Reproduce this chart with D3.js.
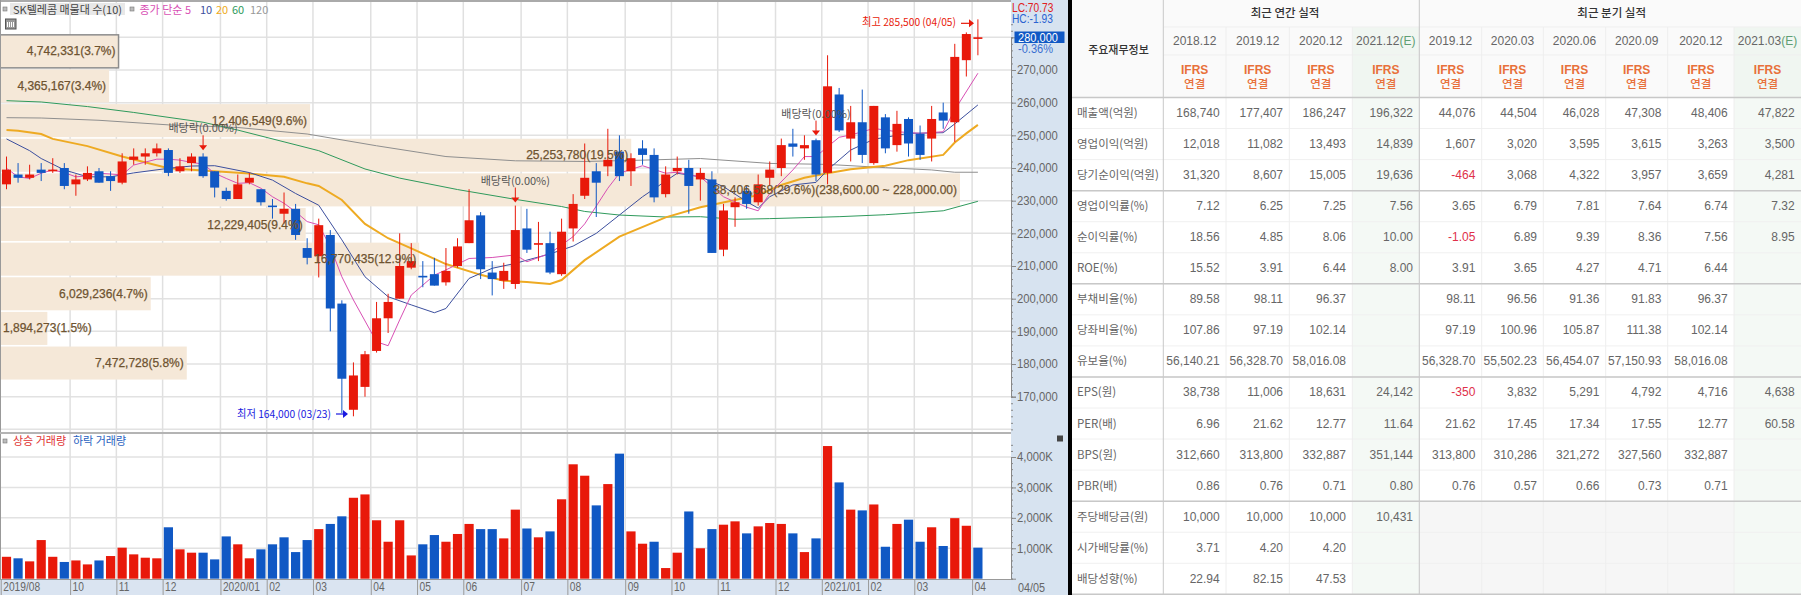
<!DOCTYPE html>
<html>
<head>
<meta charset="utf-8">
<title>SK텔레콤</title>
<script src="https://cdn.jsdelivr.net/npm/d3@7"></script>
<style>
  html, body { margin: 0; padding: 0; background: #fff; overflow: hidden; }
  svg { display: block; }
  text { font-family: "Noto Sans CJK KR", "Liberation Sans", sans-serif; }
  .num { font-family: "Liberation Sans", sans-serif; }
</style>
</head>
<body>
<div id="plot"></div>
<script>
// weekly candles, prices in thousand won
const opens = [235,238,237,239.5,239,240,235,236.5,239,237.5,235.5,242.5,243.5,244.5,245.5,239,241.5,243.5,239,233,230.5,235.5,233.5,228.5,226,227.5,215.5,213,219.5,198.5,166,173,184,194,200,209.5,207,207.5,205,210,217,225.5,208,205.5,204.5,221.5,216.5,217,207.5,221.5,231.5,239,240.5,245,239,246,244,232,239,240,236.5,236.5,215,228,233,229.5,237,240,247.5,246,248.5,238.5,262.5,249,254,241.5,255.5,247,255,250.5,249,257,254,273,279.5];
const closes = [239.5,237,238,238.5,239.5,234.5,236.5,238.5,235.5,236,242,243.5,244.5,246,238.5,240.5,243.5,237.5,234,230.5,235,237,229.5,228,227.5,219.5,212.5,222.5,197,175.5,176.5,183,194,199,210,211.5,206.5,204,208.5,216,224,209,206,208.5,221,215,217,208,220.5,229,237,235.5,242.5,237.5,243,244,231,238,240,234.5,238.5,214,227,229.5,229,235,239.5,247,246.5,247,238,265,251.5,254,244,259,246,253.5,247.5,244,255,254.5,274,281,280];
const highs = [243.5,241.5,241,241.5,243,241.5,238,240.5,240,239,244.5,246,246,247.5,246,243,244.5,244.5,239,234,238,238.5,233.5,230.5,232.5,229,218.5,224.5,221,199.5,180.5,184,199,201.5,220,217,211.5,212.5,215.5,218.5,233.5,226.5,211.5,211,228.5,227.5,223.5,220.5,224.5,232,247.5,241.5,252,250,244.5,248.5,246,240.5,243.5,242.5,240,239,229,231,234.5,238,242,249,252,250,249,274.5,264.5,259,264,259,256.5,257.5,255.5,253,259,260,278,281.5,285.5];
const lows = [233.5,235.5,236.5,236,238.5,233.5,231.5,236,235.5,233,235,241,241,243.5,237.5,238.5,239,237,231,230,230.5,235,228.5,224.5,223,218,210.5,206.5,190,165,164,170,183.5,189.5,200,209,203.5,204,204,209.5,217,206,201,203,203,214,211.5,207.5,207,217.5,230.5,225,237.5,236,234.5,241,229.5,231,238,226,230,214,213,222,227.5,228.5,234.5,237.5,243.5,242.5,236,235,251,242,241.5,241,244.5,245,243.5,242.5,242,252,248,268,274.5];

// weekly volume in K shares, u = up volume, d = down volume
const volumes = [720,670,570,1270,720,550,600,470,600,745,1020,800,690,670,1690,965,855,855,635,1390,1130,670,965,1130,1360,875,1270,1630,1800,2050,2660,2770,1920,1215,1920,765,1130,1435,1215,1470,1800,1630,1630,1325,2270,1650,1360,1555,2610,3760,3385,2410,3110,4110,1555,1150,1215,350,855,2210,1000,1630,1775,1885,1490,1720,1830,1800,1490,875,1325,4360,3165,2270,2245,2440,1050,1800,1940,1215,1690,1075,1990,1740,1020];
const volumeDir = ["u","d","u","u","u","d","u","u","d","u","u","u","u","u","d","u","u","d","d","d","u","u","d","d","d","d","d","u","d","d","u","u","u","u","u","u","d","d","u","u","u","d","d","u","u","d","u","d","u","u","u","d","u","d","u","u","d","u","u","d","u","d","u","u","d","u","u","u","d","u","d","u","d","u","d","u","d","u","d","d","u","d","u","u","d"];

// moving averages as [candle index, price]
const ma5 = [[0,239.9],[1,237.3],[2,236.8],[3,238.4],[4,239.4],[5,238.6],[6,237.3],[7,237.6],[8,238.4],[10,237.9],[11,240.9],[13,242.7],[14,242.7],[15,242.4],[16,241.7],[17,241.2],[18,238.4],[19,236.8],[20,235.3],[21,235.5],[22,233.8],[23,231.2],[24,229.2],[25,226.6],[26,223.6],[27,222.6],[28,215.9],[29,206.7],[30,199.6],[32,186.8],[33,185.6],[34,193.5],[35,201.1],[37,207.2],[38,208.8],[40,212.3],[42,212.6],[44,213.4],[45,211.3],[47,213.9],[49,219],[50,222.9],[52,233.8],[53,238.4],[55,240.7],[57,238.4],[58,238.7],[60,237.3],[62,231.2],[64,228],[65,226.9],[66,232.2],[68,239.4],[69,243.5],[70,243.5],[71,246.5],[72,249.4],[73,250.1],[75,252.1],[77,251.1],[79,250.6],[81,251.1],[82,257.8],[84,269]];
const ma10 = [[0,248.9],[2,245.3],[3,242.9],[5,239.4],[7,237.3],[9,237.3],[11,238.5],[14,239.9],[16,240.6],[18,240.7],[21,238.6],[23,236.3],[25,232.2],[27,228.6],[29,218],[31,206.7],[33,200.6],[35,198.1],[37,195.7],[38,197],[40,206.2],[42,209.3],[44,210.8],[45,211.8],[47,213.7],[49,216.1],[51,220],[53,225.6],[55,231.2],[58,238.4],[60,237.3],[62,234.3],[64,229.7],[65,227.7],[66,231.2],[68,234.8],[70,235.6],[71,239.4],[73,245.5],[75,248.8],[78,250.6],[81,250.8],[82,253.5],[84,259.3]];
const ma20 = [[0,251.6],[1,251.4],[3,250.4],[4,248.9],[7,246.7],[10,243.5],[14,239.9],[17,239.2],[21,238.3],[24,237.3],[26,235.3],[27,234.5],[29,230.2],[31,222.9],[33,218.5],[35,215.4],[38,210.6],[41,207.3],[43,205.5],[45,205.1],[47,204.5],[48,205.7],[50,211.8],[53,219],[57,224.9],[60,228],[63,230.2],[65,231.7],[67,234.8],[69,237],[71,238.4],[73,239.6],[76,240.7],[78,242.4],[81,244],[82,247.8],[83,250.6],[84,253.2]];
const ma60 = [[0,260.6],[3,260.2],[7,258.8],[11,257],[17,254],[20,251.6],[24,248],[27,245.3],[31,239.7],[34,236.9],[39,233.4],[44,230.4],[48,228.2],[50,226.7],[53,225.6],[57,225],[60,225.1],[63,224.3],[66,224.5],[72,225.1],[76,225.7],[79,226.4],[81,226.9],[84,229.8]];
const ma120 = [[0,255.4],[3,255.3],[8,254.6],[14,253.2],[20,252.4],[26,250.4],[32,246.8],[38,243.5],[44,242.2],[50,242],[55,242.4],[60,242.9],[66,241.4],[71,241.1],[76,240.1],[80,239.4],[82,238.7],[84,238.7]];

// volume profile, band edges in thousand won
const profileTop = [281,270.4,259.8,249.2,238.6,228,217.4,206.8,196.2,185.6];
const profileBottom = [270.4,259.8,249.2,238.6,228,217.4,206.8,196.2,185.6,175];
const profileVolume = [4742331,4365167,12406549,25253780,38406568,12229405,16770435,6029236,1894273,7472728];
const profilePct = ["3.7","3.4","9.6","19.5","29.6","9.4","12.9","4.7","1.5","5.8"];

const dividendIdx = [17,44,70];
const priceTicks = [170,180,190,200,210,220,230,240,250,260,270];
const volumeTicks = [1000,2000,3000,4000];
const monthIdx = [0,6,10,14,19,23,27,32,36,40,45,49,54,58,62,67,71,75,79,84];
const monthLabels = ["2019/08","10","11","12","2020/01","02","03","04","05","06","07","08","09","10","11","12","2021/01","02","03","04"];

// financial table
const rowLabels = ["매출액(억원)","영업이익(억원)","당기순이익(억원)","영업이익률(%)","순이익률(%)","ROE(%)","부채비율(%)","당좌비율(%)","유보율(%)","EPS(원)","PER(배)","BPS(원)","PBR(배)","주당배당금(원)","시가배당률(%)","배당성향(%)"];
const yearHeads = ["2018.12","2019.12","2020.12","2021.12"];
const quarterHeads = ["2019.12","2020.03","2020.06","2020.09","2020.12","2021.03"];
const col2018 = ["168,740","12,018","31,320","7.12","18.56","15.52","89.58","107.86","56,140.21","38,738","6.96","312,660","0.86","10,000","3.71","22.94"];
const col2019 = ["177,407","11,082","8,607","6.25","4.85","3.91","98.11","97.19","56,328.70","11,006","21.62","313,800","0.76","10,000","4.20","82.15"];
const col2020 = ["186,247","13,493","15,005","7.25","8.06","6.44","96.37","102.14","58,016.08","18,631","12.77","332,887","0.71","10,000","4.20","47.53"];
const col2021 = ["196,322","14,839","19,636","7.56","10.00","8.00","","","","24,142","11.64","351,144","0.80","10,431","",""];
const colQ1912 = ["44,076","1,607","-464","3.65","-1.05","3.91","98.11","97.19","56,328.70","-350","21.62","313,800","0.76","","",""];
const colQ2003 = ["44,504","3,020","3,068","6.79","6.89","3.65","96.56","100.96","55,502.23","3,832","17.45","310,286","0.57","","",""];
const colQ2006 = ["46,028","3,595","4,322","7.81","9.39","4.27","91.36","105.87","56,454.07","5,291","17.34","321,272","0.66","","",""];
const colQ2009 = ["47,308","3,615","3,957","7.64","8.36","4.71","91.83","111.38","57,150.93","4,792","17.55","327,560","0.73","","",""];
const colQ2012 = ["48,406","3,263","3,659","6.74","7.56","6.44","96.37","102.14","58,016.08","4,716","12.77","332,887","0.71","","",""];
const colQ2103 = ["47,822","3,500","4,281","7.32","8.95","","","","","4,638","60.58","","","","",""];

const RED = "#e8190a", BLUE = "#1058c4", GRID = "#e2e2e2", AXIS = "#666";

const svgWidth = 1801, svgHeight = 595;
const svg = d3.select("#plot").append("svg")
  .attr("width", svgWidth)
  .attr("height", svgHeight);

const chartRight = 1011;
const x = d3.scaleLinear().domain([0, 84]).range([6.5, 977.9]);
const y = d3.scaleLinear().domain([170, 280]).range([396.7, 37.3]);
const yVol = d3.scaleLinear().domain([0, 4000]).range([578.7, 457]);
const profileWidth = d3.scaleLinear().domain([0, 38406568]).range([0, 960]);

// squeeze a text horizontally, the chart font is narrower than ours
function squeeze(sel, factor) {
  sel.each(function() {
    this.setAttribute("textLength", this.getComputedTextLength() * factor);
    this.setAttribute("lengthAdjust", "spacingAndGlyphs");
  });
}

// side and bottom strips
svg.append("rect").attr("x", chartRight).attr("y", 0).attr("width", 57).attr("height", svgHeight).attr("fill", "#d7e3f0");
svg.append("rect").attr("x", 0).attr("y", 580).attr("width", chartRight).attr("height", 15).attr("fill", "#dae4f1");
svg.append("rect").attr("x", 1068).attr("y", 0).attr("width", 4).attr("height", svgHeight).attr("fill", "#000");

// grid
const hGrid = d3.range(160, 281, 10);
svg.append("g").selectAll("line").data(hGrid).enter().append("line")
  .attr("x1", 0).attr("x2", chartRight)
  .attr("y1", d => y(d)).attr("y2", d => y(d))
  .attr("stroke", GRID).attr("stroke-width", 1.5);
svg.append("g").selectAll("line").data(volumeTicks).enter().append("line")
  .attr("x1", 0).attr("x2", chartRight)
  .attr("y1", d => yVol(d)).attr("y2", d => yVol(d))
  .attr("stroke", GRID).attr("stroke-width", 1.5);
svg.append("g").selectAll("line").data(monthIdx.slice(1)).enter().append("line")
  .attr("x1", d => x(d - 0.5)).attr("x2", d => x(d - 0.5))
  .attr("y1", 2).attr("y2", 580)
  .attr("stroke", "#e0e0e0").attr("stroke-width", 1.5);

// volume profile bars
svg.append("g").selectAll("rect").data(profileVolume).enter().append("rect")
  .attr("x", 0)
  .attr("y", (d, i) => y(profileTop[i]) + 0.8)
  .attr("width", d => profileWidth(d))
  .attr("height", (d, i) => y(profileBottom[i]) - y(profileTop[i]) - 1.6)
  .attr("fill", "#f5e8d8")
  .attr("stroke", (d, i) => i == 0 ? "#8c8c8c" : "none")
  .attr("stroke-width", 1.5);

// moving averages
const maLine = d3.line().x(d => x(d[0])).y(d => y(d[1]));
[[ma120, "#8f8f8f", 1], [ma60, "#2f9a5c", 1], [ma20, "#eeaa22", 2], [ma10, "#3c4f9e", 1], [ma5, "#d84fb4", 1]].forEach(s => {
  svg.append("path").attr("d", maLine(s[0]))
    .attr("fill", "none").attr("stroke", s[1]).attr("stroke-width", s[2]);
});

// candles
const candles = svg.append("g").selectAll("g").data(d3.range(opens.length)).enter().append("g")
  .attr("fill", i => closes[i] >= opens[i] ? RED : BLUE)
  .attr("stroke", i => closes[i] >= opens[i] ? RED : BLUE);
candles.append("line")
  .attr("x1", i => x(i)).attr("x2", i => x(i))
  .attr("y1", i => y(highs[i])).attr("y2", i => y(lows[i]));
candles.append("rect")
  .attr("stroke", "none")
  .attr("x", i => x(i) - 4.5).attr("width", 9)
  .attr("y", i => y(Math.max(opens[i], closes[i])))
  .attr("height", i => Math.max(1.5, Math.abs(y(opens[i]) - y(closes[i]))));

// volume bars
svg.append("g").selectAll("rect").data(volumes).enter().append("rect")
  .attr("x", (d, i) => x(i) - 4.6).attr("width", 9.2)
  .attr("y", d => yVol(d))
  .attr("height", d => yVol(0) - yVol(d))
  .attr("fill", (d, i) => volumeDir[i] == "u" ? RED : BLUE);

// profile labels, right aligned in the bar unless the bar is too short
svg.append("g").selectAll("text").data(profileVolume).enter().append("text")
  .attr("class", "num")
  .attr("y", (d, i) => (y(profileTop[i]) + y(profileBottom[i])) / 2 + 4)
  .attr("fill", "#6e5330")
  .attr("stroke", "#6e5330")
  .attr("stroke-width", 0.25)
  .attr("font-size", "12px")
  .text((d, i) => d3.format(",")(d) + "(" + profilePct[i] + "%)" + (i == 4 ? "(238,600.00 ~ 228,000.00)" : ""))
  .each(function(d) {
    this.setAttribute("x", Math.max(3, profileWidth(d) - 3 - this.getComputedTextLength()));
  });

// dividend markers
dividendIdx.forEach(i => {
  const tip = y(highs[i]) - 3;
  svg.append("line").attr("x1", x(i)).attr("x2", x(i)).attr("y1", tip - 15).attr("y2", tip - 4)
    .attr("stroke", RED);
  svg.append("path").attr("d", d3.line()([[x(i) - 4, tip - 5], [x(i) + 4, tip - 5], [x(i), tip]])).attr("fill", RED);
  svg.append("text").attr("x", x(i)).attr("y", tip - 18).attr("text-anchor", "middle")
    .attr("fill", "#555").attr("font-size", "11px").text("배당락(0.00%)");
});

// high / low notes
svg.append("text").attr("x", 956).attr("y", 26).attr("text-anchor", "end").attr("fill", RED)
  .attr("font-size", "11px").text("최고 285,500 (04/05)").call(squeeze, 0.93);
svg.append("path").attr("d", d3.line()([[961, y(285.5) + 4], [973, y(285.5) + 4]])).attr("stroke", RED).attr("stroke-width", 1.2);
svg.append("path").attr("d", d3.line()([[969, y(285.5)], [974, y(285.5) + 4], [969, y(285.5) + 8]])).attr("fill", RED);
svg.append("text").attr("x", 331).attr("y", 418).attr("text-anchor", "end").attr("fill", "#1a1ae0")
  .attr("font-size", "11px").text("최저 164,000 (03/23)").call(squeeze, 0.93);
svg.append("path").attr("d", d3.line()([[336, 414], [347, 414]])).attr("stroke", "#1a1ae0").attr("stroke-width", 1.2);
svg.append("path").attr("d", d3.line()([[343, 410], [348, 414], [343, 418]])).attr("fill", "#1a1ae0");

// panel frame
svg.append("line").attr("x1", 0).attr("x2", chartRight).attr("y1", 1).attr("y2", 1).attr("stroke", "#aaa").attr("stroke-width", 2);
svg.append("line").attr("x1", 0.5).attr("x2", 0.5).attr("y1", 0).attr("y2", 580).attr("stroke", "#999");
svg.append("line").attr("x1", 0).attr("x2", chartRight).attr("y1", 433).attr("y2", 433).attr("stroke", "#b4b4b4").attr("stroke-width", 2);
svg.append("line").attr("x1", 0).attr("x2", chartRight).attr("y1", 579.5).attr("y2", 579.5).attr("stroke", "#999");

// axes
function styleAxis(g) {
  g.select(".domain").attr("stroke", "#888");
  g.selectAll(".tick line").attr("stroke", "#888");
  g.selectAll(".tick text").attr("class", "num").attr("fill", AXIS).attr("font-size", "12px").call(squeeze, 0.94);
}
svg.append("g").attr("transform", "translate(" + chartRight + ",0)")
  .call(d3.axisRight(y).tickValues(d3.range(160, 285, 2)).tickSize(2).tickFormat("")).call(styleAxis);
svg.append("g").attr("transform", "translate(" + chartRight + ",0)")
  .call(d3.axisRight(y).tickValues(priceTicks).tickSize(5).tickPadding(1).tickFormat(d => d3.format(",")(d * 1000))).call(styleAxis);
svg.append("g").attr("transform", "translate(" + chartRight + ",0)")
  .call(d3.axisRight(yVol).tickValues(d3.range(0, 4600, 200)).tickSize(2).tickFormat("")).call(styleAxis);
svg.append("g").attr("transform", "translate(" + chartRight + ",0)")
  .call(d3.axisRight(yVol).tickValues(volumeTicks).tickSize(5).tickPadding(1).tickFormat(d => d3.format(",")(d) + "K")).call(styleAxis);

const xAxis = svg.append("g").attr("transform", "translate(0,580)")
  .call(d3.axisBottom(x).tickValues(monthIdx.map(d => d - 0.5)).tickSize(15).tickPadding(-13)
    .tickFormat((d, i) => monthLabels[i]));
xAxis.select(".domain").remove();
xAxis.selectAll(".tick line").attr("stroke", "#9a9a9a");
xAxis.selectAll(".tick text").attr("class", "num").attr("text-anchor", "start").attr("dx", 2)
  .attr("fill", AXIS).attr("font-size", "12px").call(squeeze, 0.85);
svg.append("text").attr("class", "num").attr("x", 1018).attr("y", 592).attr("fill", AXIS).attr("font-size", "12px").text("04/05").call(squeeze, 0.9);

// right side labels
svg.append("text").attr("class", "num").attr("x", 1012).attr("y", 12).attr("fill", "#e02020").attr("font-size", "12px").text("LC:70.73").call(squeeze, 0.85);
svg.append("text").attr("class", "num").attr("x", 1012).attr("y", 22.5).attr("fill", "#2a62d0").attr("font-size", "12px").text("HC:-1.93").call(squeeze, 0.85);
svg.append("rect").attr("x", 1014.5).attr("y", 31.5).attr("width", 50).attr("height", 11.5).attr("fill", BLUE);
svg.append("text").attr("class", "num").attr("x", 1018).attr("y", 41.5).attr("fill", "#fff").attr("font-size", "12px").text("280,000").call(squeeze, 0.92);
svg.append("text").attr("class", "num").attr("x", 1018).attr("y", 52.5).attr("fill", "#3a6fd0").attr("font-size", "12px").text("-0.36%").call(squeeze, 0.92);

// chart legends
function marker(px, py) {
  svg.append("rect").attr("x", px - 2).attr("y", py - 2).attr("width", 4).attr("height", 4)
    .attr("fill", "#bbb").attr("stroke", "#777").attr("stroke-width", 0.6);
}
marker(5, 9);
svg.append("rect").attr("x", 10).attr("y", 3).attr("width", 115).attr("height", 12).attr("fill", "#e8e8e8");
svg.append("text").attr("x", 13).attr("y", 13.5).attr("fill", "#444").attr("font-size", "11px")
  .attr("textLength", 109).attr("lengthAdjust", "spacing").text("SK텔레콤 매물대 수(10)");
marker(132, 9);
[["종가 단순 5", 139.5, "#d84fb4"], ["10", 200, "#3c4f9e"], ["20", 216, "#eeaa22"], ["60", 232, "#2f9a5c"], ["120", 250, "#999"]].forEach(d => {
  svg.append("text").attr("x", d[1]).attr("y", 13.5).attr("fill", d[2]).attr("font-size", "11px").text(d[0]);
});
svg.append("rect").attr("x", 5.5).attr("y", 19).attr("width", 10.5).attr("height", 10).attr("fill", "#999").attr("stroke", "#555");
svg.append("path").attr("d", "M7.5 22v5M9.5 22v5M11.5 22v5M13.5 22v5").attr("stroke", "#fff");

marker(5, 441);
svg.append("text").attr("x", 13).attr("y", 445).attr("fill", "#e03030").attr("font-size", "11px").text("상승 거래량");
svg.append("text").attr("x", 73).attr("y", 445).attr("fill", "#2a62c0").attr("font-size", "11px").text("하락 거래량");
svg.append("rect").attr("x", 1057).attr("y", 435.5).attr("width", 6).attr("height", 6).attr("fill", "#444");

// financial table
const edges = [1163.3, 1226, 1289.3, 1352.3, 1419.3, 1481.7, 1543.3, 1605.7, 1667.7, 1734, 1801];
const columns = [col2018, col2019, col2020, col2021, colQ1912, colQ2003, colQ2006, colQ2009, colQ2012, colQ2103];
const heads = yearHeads.concat(quarterHeads);
const row = d3.scaleBand().domain(d3.range(rowLabels.length)).range([97.5, 594.3]);
const thickAfter = [-1, 2, 5, 8, 12, 15];
const table = svg.append("g");

// cell backgrounds
table.append("rect").attr("x", 1072).attr("y", 0).attr("width", 729).attr("height", 97.5).attr("fill", "#fafafa");
table.append("rect").attr("x", 1419.3).attr("y", row(13)).attr("width", 314.7).attr("height", row.bandwidth() * 3).attr("fill", "#f6f6f6");
[[1352.3, 1419.3], [1734, 1801]].forEach(e => {
  table.append("rect").attr("x", e[0]).attr("y", 27).attr("width", e[1] - e[0]).attr("height", 70.5).attr("fill", "#f0f6f1");
  table.append("rect").attr("x", e[0]).attr("y", 97.5).attr("width", e[1] - e[0]).attr("height", 496.8).attr("fill", "#f4f9f5");
});

// row and column rules
table.selectAll(".rowline").data(d3.range(1, rowLabels.length)).enter().append("line")
  .attr("x1", 1072).attr("x2", 1801)
  .attr("y1", i => row(i)).attr("y2", i => row(i))
  .attr("stroke", "#f0f0f0");
table.append("line").attr("x1", 1163.3).attr("x2", 1801).attr("y1", 27).attr("y2", 27).attr("stroke", "#efefef");
table.append("line").attr("x1", 1163.3).attr("x2", 1801).attr("y1", 55).attr("y2", 55).attr("stroke", "#efefef");
table.selectAll(".colline").data(edges.slice(1, -1)).enter().append("line")
  .attr("x1", d => d).attr("x2", d => d)
  .attr("y1", 27).attr("y2", 595)
  .attr("stroke", "#eeeeee");
thickAfter.forEach(i => {
  const yy = i < 0 ? row(0) : row(i) + row.bandwidth();
  table.append("line").attr("x1", 1072).attr("x2", 1801).attr("y1", yy).attr("y2", yy)
    .attr("stroke", "#c8c8c8").attr("stroke-width", 1.5);
});
[1163.3, 1419.3].forEach(d => {
  table.append("line").attr("x1", d).attr("x2", d).attr("y1", 0).attr("y2", 595).attr("stroke", "#c8c8c8");
});

// header text
table.append("text").attr("x", 1118.5).attr("y", 54).attr("text-anchor", "middle").attr("fill", "#333")
  .attr("font-size", "11px").attr("font-weight", "500").text("주요재무정보");
table.append("text").attr("x", 1285).attr("y", 17).attr("text-anchor", "middle").attr("fill", "#333")
  .attr("font-size", "11.5px").attr("font-weight", "500").text("최근 연간 실적");
table.append("text").attr("x", 1611.7).attr("y", 17).attr("text-anchor", "middle").attr("fill", "#333")
  .attr("font-size", "11.5px").attr("font-weight", "500").text("최근 분기 실적");

heads.forEach((h, c) => {
  const mid = (edges[c] + edges[c + 1]) / 2;
  const isEst = c == 3 || c == 9;
  const t = table.append("text").attr("class", "num").attr("x", mid).attr("y", 45).attr("text-anchor", "middle")
    .attr("fill", "#666").attr("font-size", "12px").text(h);
  if (isEst) t.append("tspan").attr("fill", "#5f9f74").text("(E)");
  table.append("text").attr("class", "num").attr("x", mid).attr("y", 73.5).attr("text-anchor", "middle")
    .attr("fill", "#e8703a").attr("font-size", "12px").attr("font-weight", "bold").text("IFRS");
  table.append("text").attr("x", mid).attr("y", 88).attr("text-anchor", "middle")
    .attr("fill", "#e8703a").attr("font-size", "11.5px").attr("font-weight", "500").text("연결");
});

// rows
rowLabels.forEach((label, r) => {
  const my = row(r) + row.bandwidth() / 2 + 4;
  table.append("text").attr("x", 1077).attr("y", my).attr("fill", "#666")
    .attr("font-size", "11.5px").text(label);
  columns.forEach((col, c) => {
    if (!col[r]) return;
    table.append("text").attr("class", "num").attr("x", edges[c + 1] - 6.3).attr("y", my)
      .attr("text-anchor", "end")
      .attr("fill", col[r][0] == "-" ? "#e0304a" : "#666")
      .attr("font-size", "12px")
      .text(col[r]);
  });
});
</script>
</body>
</html>
